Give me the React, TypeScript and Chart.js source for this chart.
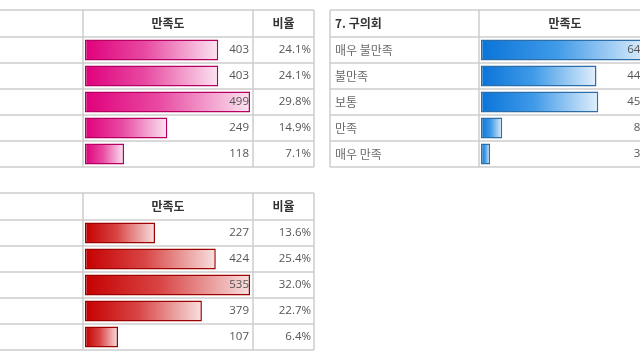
import React, { useEffect, useRef } from "react";
import { Chart, registerables } from "chart.js";

Chart.register(...registerables);

// ---- data ----
const categories = ["매우 불만족", "불만족", "보통", "만족", "매우 만족"];
const headerBar = "만족도";
const headerPct = "비율";

const pinkTitle = "";
const pinkValues = [403, 403, 499, 249, 118];
const pinkPercents = ["24.1%", "24.1%", "29.8%", "14.9%", "7.1%"];

const blueTitle = "7. 구의회";
const blueValues = [645, 446, 453, 82, 35];
const bluePercents = ["38.6%", "26.7%", "27.1%", "4.9%", "2.1%"];

const redTitle = "";
const redValues = [227, 424, 535, 379, 107];
const redPercents = ["13.6%", "25.4%", "32.0%", "22.7%", "6.4%"];

// ---- styles / layout ----
const LABEL_W = 149;
const PCT_W = 61;
const ROW_H = 26;
const GRID = "#cdcdcd";
const NUM_FONT = "11.5px 'Open Sans', 'Noto Sans CJK KR', sans-serif";
const KR_FONT = "12px 'Noto Sans CJK KR', sans-serif";
const KR_BOLD = "bold 12px 'Noto Sans CJK KR', sans-serif";

type Palette = { stops: [number, string][]; border: string };

const pink: Palette = {
  stops: [
    [0, "#e0007c"],
    [0.45, "#e84aa2"],
    [1, "#fbe4f1"],
  ],
  border: "#b5005f",
};
const blue: Palette = {
  stops: [
    [0, "#0a74d8"],
    [0.45, "#3f9ae8"],
    [1, "#e2effb"],
  ],
  border: "#2d6ea8",
};
const red: Palette = {
  stops: [
    [0, "#c50000"],
    [0.45, "#d84444"],
    [1, "#f8e0e0"],
  ],
  border: "#9c0000",
};

type TableProps = {
  title: string;
  values: number[];
  percents: string[];
  palette: Palette;
  left: number;
  top: number;
  headerH: number;
  barW: number;
};

function BarTable({ title, values, percents, palette, left, top, headerH, barW }: TableProps) {
  const ref = useRef<HTMLCanvasElement | null>(null);
  const o = 1;
  const BAR_W = barW;
  const W = LABEL_W + BAR_W + PCT_W;
  const H = headerH + categories.length * ROW_H;
  const cw = W + 2 * o;
  const ch = H + 2 * o;

  useEffect(() => {
    const canvas = ref.current;
    if (!canvas) return;

    const tablePlugin = {
      id: "tableGrid",
      beforeDraw(chart: any) {
        const c = chart.ctx as CanvasRenderingContext2D;
        c.save();
        c.fillStyle = "#ffffff";
        c.fillRect(0, 0, cw, ch);
        c.strokeStyle = GRID;
        c.lineWidth = 1.5;
        c.beginPath();
        const ys = [0, headerH];
        for (let i = 1; i <= categories.length; i++) ys.push(headerH + i * ROW_H);
        ys.forEach((y) => {
          c.moveTo(o, o + y);
          c.lineTo(o + W, o + y);
        });
        [0, LABEL_W, LABEL_W + BAR_W, W].forEach((x) => {
          c.moveTo(o + x, o);
          c.lineTo(o + x, o + H);
        });
        c.stroke();
        c.restore();
      },
      afterDatasetsDraw(chart: any) {
        const c = chart.ctx as CanvasRenderingContext2D;
        c.save();
        c.textBaseline = "middle";
        const hy = o + headerH / 2;
        c.fillStyle = "#333333";
        c.font = KR_BOLD;
        c.textAlign = "center";
        c.fillText(headerBar, o + LABEL_W + BAR_W / 2, hy);
        c.fillText(headerPct, o + LABEL_W + BAR_W + PCT_W / 2, hy);
        if (title) {
          c.textAlign = "left";
          c.fillText(title, o + 5, hy);
        }
        categories.forEach((cat, i) => {
          const y = o + headerH + (i + 0.5) * ROW_H;
          c.font = KR_FONT;
          c.fillStyle = "#6a6a6a";
          c.textAlign = "left";
          c.fillText(cat, o + 5, y);
          c.font = NUM_FONT;
          c.fillStyle = "#555555";
          c.textAlign = "right";
          c.fillText(String(values[i]), o + LABEL_W + BAR_W - 4, y);
          c.fillText(percents[i], o + W - 3, y);
        });
        c.restore();
      },
    };

    const maxV = Math.max(...values);
    const chart = new Chart(canvas, {
      type: "bar",
      data: {
        labels: categories,
        datasets: [
          {
            data: values,
            backgroundColor: (ctx: any) => {
              const chart = ctx.chart;
              const xs = chart.scales && chart.scales.x;
              if (!xs || ctx.raw == null) return palette.stops[0][1];
              const x0 = xs.getPixelForValue(0);
              const x1 = xs.getPixelForValue(ctx.raw);
              if (!isFinite(x0) || !isFinite(x1) || x1 <= x0) return palette.stops[0][1];
              const g = chart.ctx.createLinearGradient(x0, 0, x1, 0);
              palette.stops.forEach(([p, col]) => g.addColorStop(p, col));
              return g;
            },
            borderColor: palette.border,
            borderWidth: 1.5,
            borderSkipped: false,
            barPercentage: 0.8,
            categoryPercentage: 1,
          },
        ],
      },
      options: {
        indexAxis: "y",
        responsive: false,
        animation: false,
        devicePixelRatio: 1,
        layout: {
          padding: {
            left: o + LABEL_W + 2,
            right: cw - (o + LABEL_W + BAR_W - 3),
            top: o + headerH,
            bottom: ch - (o + H),
          },
        },
        scales: {
          x: { display: false, min: 0, max: maxV },
          y: { display: false },
        },
        plugins: {
          legend: { display: false },
          tooltip: { enabled: false },
        },
      },
      plugins: [tablePlugin],
    } as any);
    return () => chart.destroy();
  }, []);

  return (
    <canvas
      ref={ref}
      width={cw}
      height={ch}
      style={{ position: "absolute", left: left - o, top: top - o, width: cw, height: ch }}
    />
  );
}

export default function App() {
  return (
    <div
      style={{
        position: "fixed",
        left: 0,
        top: 0,
        width: 640,
        height: 360,
        overflow: "hidden",
        background: "#ffffff",
      }}
    >
      <BarTable title={pinkTitle} values={pinkValues} percents={pinkPercents} palette={pink} left={-66} top={10} headerH={27} barW={170} />
      <BarTable title={blueTitle} values={blueValues} percents={bluePercents} palette={blue} left={330} top={10} headerH={27} barW={172} />
      <BarTable title={redTitle} values={redValues} percents={redPercents} palette={red} left={-66} top={193} headerH={27} barW={170} />
    </div>
  );
}
